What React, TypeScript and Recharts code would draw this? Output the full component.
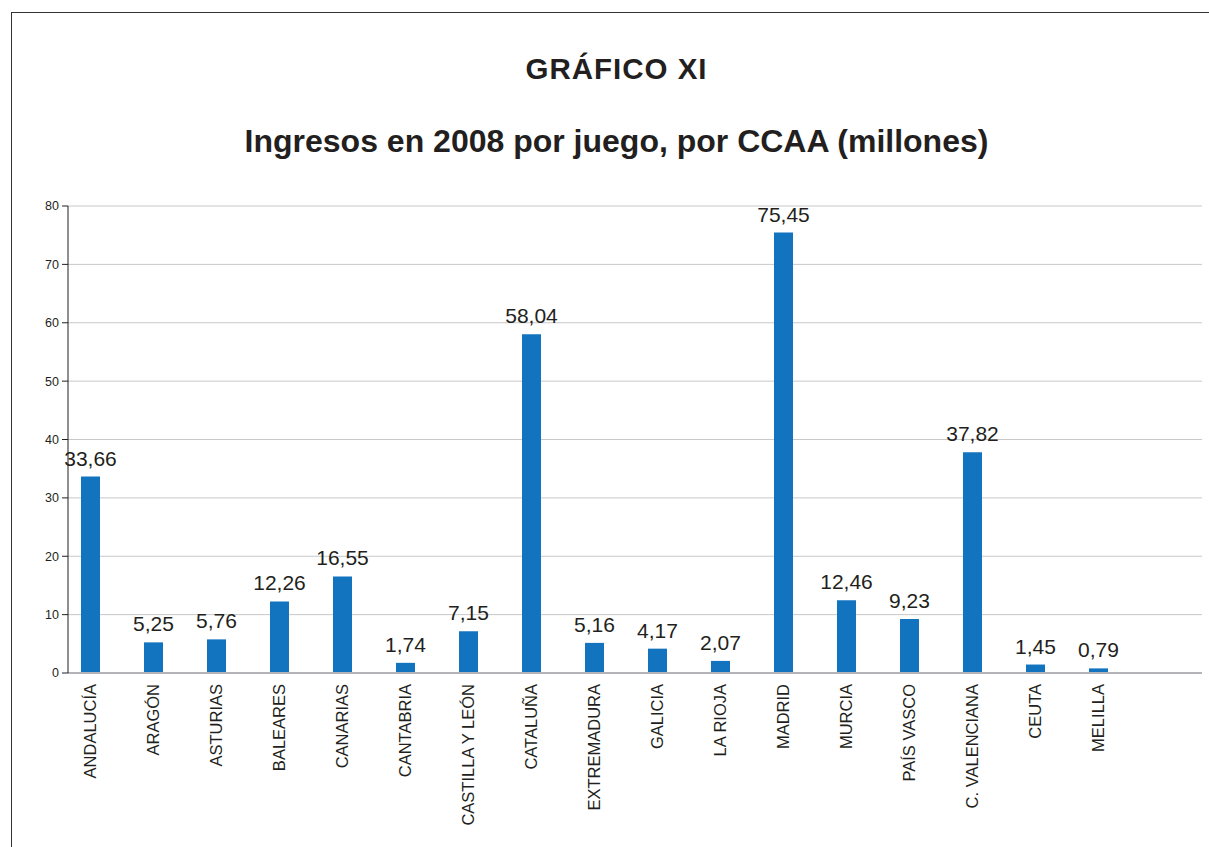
import { BarChart, Bar, XAxis, YAxis, CartesianGrid, LabelList } from 'recharts';

const categories = [
  'ANDALUCÍA',
  'ARAGÓN',
  'ASTURIAS',
  'BALEARES',
  'CANARIAS',
  'CANTABRIA',
  'CASTILLA Y LEÓN',
  'CATALUÑA',
  'EXTREMADURA',
  'GALICIA',
  'LA RIOJA',
  'MADRID',
  'MURCIA',
  'PAÍS VASCO',
  'C. VALENCIANA',
  'CEUTA',
  'MELILLA',
];

const ingresos = [
  33.66, 5.25, 5.76, 12.26, 16.55, 1.74, 7.15, 58.04, 5.16, 4.17, 2.07, 75.45, 12.46, 9.23, 37.82, 1.45,
  0.79,
];

const yTicks = [0, 10, 20, 30, 40, 50, 60, 70, 80];

const FONT = '"Liberation Sans", Arial, Helvetica, sans-serif';

const data = categories.map((name, i) => ({ idx: i, name, value: ingresos[i] }));

const formatValue = (v: number) => v.toFixed(2).replace('.', ',');

function CategoryTick(props: any) {
  const { x, y, payload } = props;
  const label = categories[payload.value] ?? '';
  return (
    <text
      transform={`translate(${x + 6},${y + 3}) rotate(-90)`}
      textAnchor="end"
      fontSize={16.5}
      fill="#231f20"
      fontFamily={FONT}
    >
      {label}
    </text>
  );
}

export default function App() {
  return (
    <div style={{ position: 'absolute', left: 0, top: 0, width: 1209, height: 847, background: '#fff', overflow: 'hidden' }}>
      {/* frame */}
      <div
        style={{
          position: 'absolute',
          left: 11,
          top: 12,
          width: 1198,
          height: 835,
          borderLeft: '1px solid #333',
          borderTop: '1px solid #333',
        }}
      />
      <svg width={1209} height={200} style={{ position: 'absolute', left: 0, top: 0 }}>
        <text
          x={616.5}
          y={79}
          textAnchor="middle"
          fontFamily={FONT}
          fontWeight="bold"
          fontSize={29.5}
          letterSpacing={1}
          fill="#231f20"
        >
          GRÁFICO XI
        </text>
        <text x={616.5} y={152} textAnchor="middle" fontFamily={FONT} fontWeight="bold" fontSize={32} fill="#231f20">
          Ingresos en 2008 por juego, por CCAA (millones)
        </text>
      </svg>
      <div style={{ position: 'absolute', left: 0, top: 0 }}>
        <BarChart width={1209} height={847} data={data} margin={{ top: 206, right: 7, bottom: 4, left: 8 }}>
          <CartesianGrid vertical={false} stroke="#c8c8c8" />
          <XAxis
            type="number"
            dataKey="idx"
            domain={[-0.357, 17.643]}
            ticks={categories.map((_, i) => i)}
            interval={0}
            height={170}
            tickLine={false}
            axisLine={{ stroke: '#b4b4b8', strokeWidth: 2 }}
            tick={<CategoryTick />}
            allowDataOverflow
          />
          <YAxis
            domain={[0, 80]}
            ticks={yTicks}
            width={60}
            tickSize={6}
            tickMargin={3}
            axisLine={{ stroke: '#231f20' }}
            tickLine={{ stroke: '#231f20' }}
            tick={{ fontSize: 12.5, fill: '#231f20', fontFamily: FONT }}
          />
          <Bar dataKey="value" fill="#1273bf" barSize={19} isAnimationActive={false}>
            <LabelList
              dataKey="value"
              position="top"
              offset={11}
              formatter={(v: any) => formatValue(Number(v))}
              style={{ fontSize: 21, fill: '#231f20', fontFamily: FONT }}
            />
          </Bar>
        </BarChart>
      </div>
    </div>
  );
}
